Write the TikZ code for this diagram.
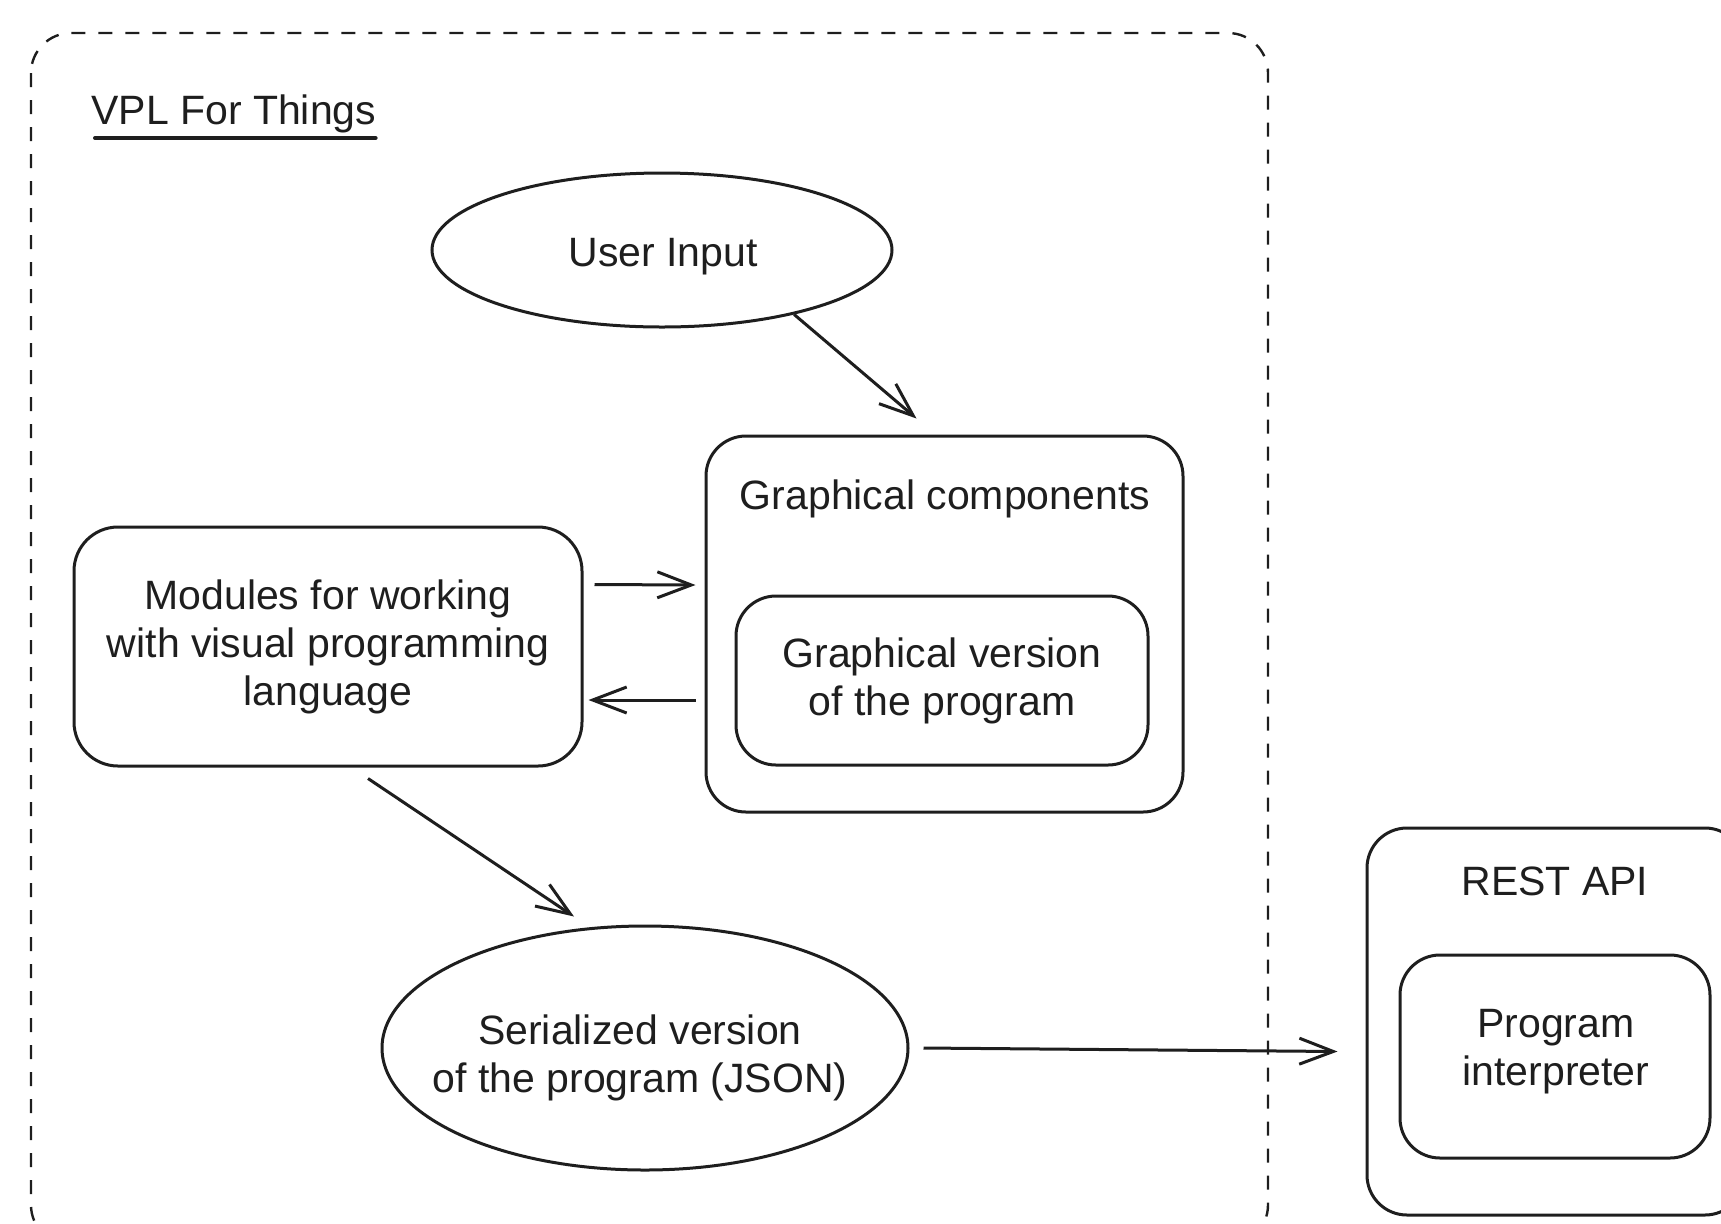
\documentclass[tikz,border=0pt]{standalone}
\usepackage{fontspec}
\setmainfont{Liberation Sans}
\usetikzlibrary{calc,arrows.meta,shapes.geometric}
\definecolor{ink}{HTML}{1E1E1E}

\begin{document}
\begin{tikzpicture}[x=0.5pt,y=-0.5pt,>={Straight Barb[length=17pt,width=13pt]},
  every node/.style={font=\fontsize{20.5}{24}\selectfont,text=ink,align=center},
  box/.style={draw=ink,line width=1.5pt,rounded corners=20pt,inner sep=0pt},
  oval/.style={draw=ink,line width=1.5pt,ellipse,inner sep=0pt},
  arr/.style={->,draw=ink,line width=1.5pt}]
  \useasboundingbox (0,0) rectangle (1721,1223);
  \clip (0,0) rectangle (1721,1223);
  % frame of the web tool
  \draw[ink,line width=1.2pt,dash pattern=on 7pt off 6.5pt,rounded corners=20pt]
    (31,33) rectangle (1268,1245);
  \node[anchor=base west,inner sep=0pt] (title) at (91,124) {VPL For Things};
  \draw[ink,line width=2pt,line cap=round] ($(title.base west)+(4,14)$) -- ($(title.base east)+(-1,14)$);
  % nodes
  \node[oval,minimum width=230pt,minimum height=77pt] (input) at (662,250) {};
  \node (inputtext) at (663,257) {User Input};
  \node[box,minimum width=238.5pt,minimum height=188pt] (graph) at (944.5,624) {};
  \node (graphtitle) at (945,499) {Graphical components};
  \node[box,minimum width=206pt,minimum height=84.5pt] (ver) at (942,680.5)
    {Graphical version\\of the program};
  \node[box,rounded corners=22pt,minimum width=254pt,minimum height=119.5pt] (modules) at (328,646.5)
    {Modules for working\\with visual programming\\language};
  \node[oval,minimum width=263pt,minimum height=122pt] (serial) at (645,1048) {};
  \node (serialtext) at (640,1058) {Serialized version\\of the program (JSON)};
  \node[box,minimum width=189pt,minimum height=193.5pt] (rest) at (1556,1021.5) {};
  \node (resttitle) at (1555,881) {REST API};
  \node[box,minimum width=155pt,minimum height=101.5pt] (interp) at (1555,1056.5) {};
  \node (interptext) at (1556,1052) {Program\\interpreter};
  % arrows
  \draw[arr] (input.-26) -- ($(graph.north)+(-28,-16)$);
  \draw[arr] ($(modules.east)+(11,-62)$) -- ($(graph.west)+(-9,-39)$);
  \draw[arr] ($(graph.west)+(-9,76)$) -- ($(modules.east)+(5,53.5)$);
  \draw[arr] ($(modules.south)+(40,11)$) -- ($(serial.north)+(-71,-8)$);
  \draw[arr] ($(serial.east)+(14,0)$) -- ($(rest.west)+(-28,30)$);
\end{tikzpicture}
\end{document}
